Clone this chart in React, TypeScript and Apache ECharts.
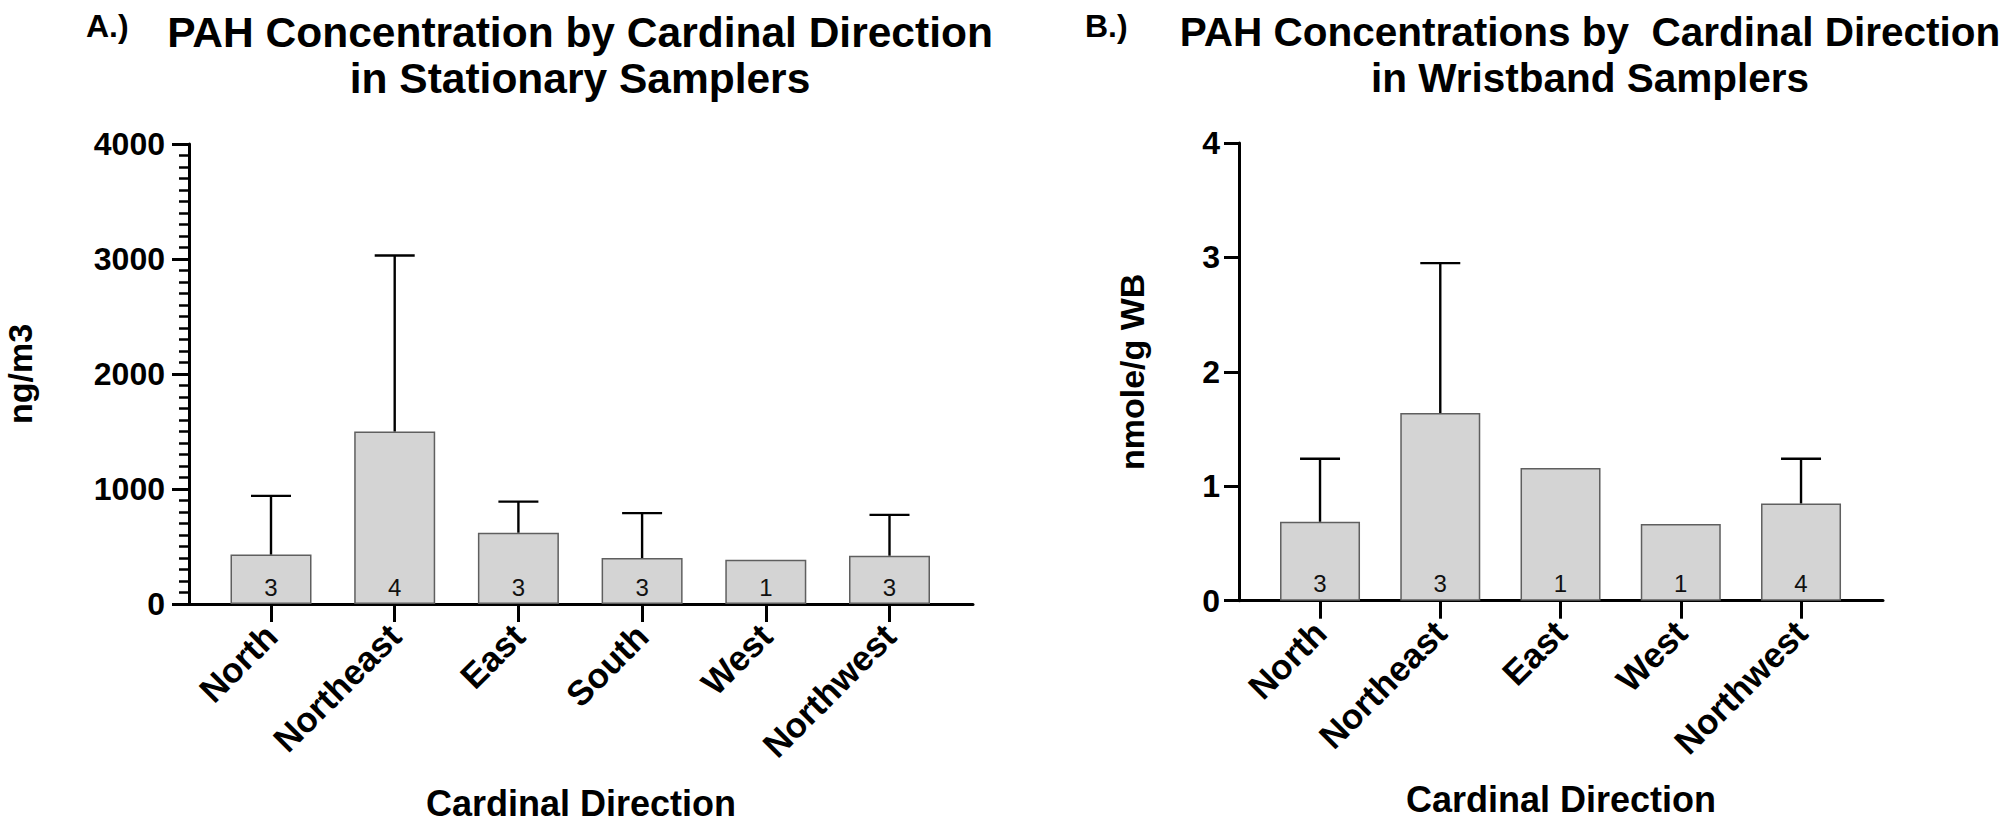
import * as echarts from 'echarts';
import { useEffect, useRef } from 'react';

// panel A: stationary samplers
const stationaryCats = ['North', 'Northeast', 'East', 'South', 'West', 'Northwest'];
const stationaryMean = [430, 1500, 620, 400, 385, 420];
const stationarySd = [510, 1530, 270, 390, null, 355];
const stationaryN = [3, 4, 3, 3, 1, 3];
const stationaryTicks = [0, 1000, 2000, 3000, 4000];

// panel B: wristband samplers
const wristCats = ['North', 'Northeast', 'East', 'West', 'Northwest'];
const wristMean = [0.69, 1.64, 1.16, 0.67, 0.85];
const wristSd = [0.55, 1.31, null, null, 0.39];
const wristN = [3, 3, 1, 1, 4];
const wristTicks = [0, 1, 2, 3, 4];

const FONT = 'Liberation Sans, Arial, Helvetica, sans-serif';

const errorBars = (mean: number[], sd: (number | null)[], xIdx: number, yIdx: number) => ({
    type: 'custom',
    xAxisIndex: xIdx,
    yAxisIndex: yIdx,
    z: 5,
    data: mean.map((m, i) => (sd[i] == null ? null : [i, m, sd[i]])).filter((d) => d !== null),
    renderItem: (_params: any, api: any) => {
        const i = api.value(0);
        const m = api.value(1);
        const e = api.value(2);
        const base = api.coord([i, m]);
        const top = api.coord([i, m + e]);
        const half = 20;
        const style = { stroke: '#000', lineWidth: 2.4 };
        return {
            type: 'group',
            children: [
                { type: 'line', shape: { x1: base[0], y1: base[1], x2: top[0], y2: top[1] }, style },
                { type: 'line', shape: { x1: top[0] - half, y1: top[1], x2: top[0] + half, y2: top[1] }, style },
            ],
        };
    },
});

const bars = (mean: number[], n: number[], xIdx: number, yIdx: number, width: number) => ({
    type: 'bar',
    xAxisIndex: xIdx,
    yAxisIndex: yIdx,
    barWidth: width,
    data: mean,
    itemStyle: { color: '#d4d4d4', borderColor: '#5f5f5f', borderWidth: 1.5 },
    label: {
        show: true,
        position: 'insideBottom',
        distance: 5,
        formatter: (p: any) => String(n[p.dataIndex]),
        fontFamily: FONT,
        fontSize: 24,
        color: '#111',
    },
});

export default function App() {
    const chartRef = useRef<HTMLDivElement>(null);

    useEffect(() => {
        if (!chartRef.current) return;
        const chart = echarts.init(chartRef.current, null, { renderer: 'svg' });

        const frameX = (name: string, gap: number) => ({
            type: 'value',
            min: 0,
            max: 1,
            axisLine: { show: true, lineStyle: { color: '#000', width: 3 } },
            axisTick: { show: false },
            axisLabel: { show: false },
            splitLine: { show: false },
            name,
            nameLocation: 'middle',
            nameGap: gap,
            nameTextStyle: { fontFamily: FONT, fontSize: 36, fontWeight: 'bold', color: '#000' },
        });

        const catX = (cats: string[], gridIndex: number) => ({
            type: 'category',
            gridIndex,
            data: cats,
            axisLine: { show: false },
            axisTick: { show: true, alignWithLabel: true, length: 18, lineStyle: { color: '#000', width: 3 } },
            axisLabel: {
                interval: 0,
                rotate: 45,
                margin: 26,
                fontFamily: FONT,
                fontSize: 35,
                fontWeight: 'bold',
                color: '#000',
            },
            splitLine: { show: false },
        });

        const option: any = {
            animation: false,
            backgroundColor: '#fff',
            title: [
                {
                    text: 'A.)',
                    left: 86,
                    top: 10,
                    padding: 0,
                    textStyle: { fontFamily: FONT, fontSize: 32, fontWeight: 'bold', color: '#000' },
                },
                {
                    text: 'PAH Concentration by Cardinal Direction\nin Stationary Samplers',
                    left: 580,
                    top: 9,
                    padding: 0,
                    textAlign: 'center',
                    textStyle: { fontFamily: FONT, fontSize: 42.5, fontWeight: 'bold', color: '#000', lineHeight: 46 },
                },
                {
                    text: 'B.)',
                    left: 1085,
                    top: 10,
                    padding: 0,
                    textStyle: { fontFamily: FONT, fontSize: 32, fontWeight: 'bold', color: '#000' },
                },
                {
                    text: 'PAH Concentrations by  Cardinal Direction\nin Wristband Samplers',
                    left: 1590,
                    top: 9,
                    padding: 0,
                    textAlign: 'center',
                    textStyle: { fontFamily: FONT, fontSize: 40.5, fontWeight: 'bold', color: '#000', lineHeight: 46 },
                },
            ],
            grid: [
                { left: 189, top: 144, width: 784, height: 460 },
                { left: 209.15, top: 144, width: 742.2, height: 460 },
                { left: 1239, top: 143, width: 644, height: 457.7 },
                { left: 1259.9, top: 143, width: 601.25, height: 457.7 },
            ],
            xAxis: [
                { ...frameX('Cardinal Direction', 181), gridIndex: 0 },
                catX(stationaryCats, 1),
                { ...frameX('Cardinal Direction', 181), gridIndex: 2 },
                catX(wristCats, 3),
            ],
            yAxis: [
                {
                    type: 'value',
                    gridIndex: 0,
                    min: stationaryTicks[0],
                    max: stationaryTicks[stationaryTicks.length - 1],
                    interval: stationaryTicks[1] - stationaryTicks[0],
                    axisLine: { show: true, lineStyle: { color: '#000', width: 3 } },
                    axisTick: { show: true, length: 17, lineStyle: { color: '#000', width: 3 } },
                    minorTick: { show: true, splitNumber: 10, length: 10, lineStyle: { color: '#000', width: 2.5 } },
                    axisLabel: {
                        margin: 24,
                        formatter: (v: number) => String(v),
                        fontFamily: FONT,
                        fontSize: 32,
                        fontWeight: 'bold',
                        color: '#000',
                    },
                    splitLine: { show: false },
                    name: 'ng/m3',
                    nameLocation: 'middle',
                    nameGap: 152,
                    nameTextStyle: { fontFamily: FONT, fontSize: 34, fontWeight: 'bold', color: '#000' },
                },
                {
                    type: 'value',
                    gridIndex: 1,
                    min: stationaryTicks[0],
                    max: stationaryTicks[stationaryTicks.length - 1],
                    show: false,
                },
                {
                    type: 'value',
                    gridIndex: 2,
                    min: wristTicks[0],
                    max: wristTicks[wristTicks.length - 1],
                    interval: wristTicks[1] - wristTicks[0],
                    axisLine: { show: true, lineStyle: { color: '#000', width: 3 } },
                    axisTick: { show: true, length: 15, lineStyle: { color: '#000', width: 3 } },
                    axisLabel: {
                        margin: 19,
                        formatter: (v: number) => String(v),
                        fontFamily: FONT,
                        fontSize: 32,
                        fontWeight: 'bold',
                        color: '#000',
                    },
                    splitLine: { show: false },
                    name: 'nmole/g WB',
                    nameLocation: 'middle',
                    nameGap: 90,
                    nameTextStyle: { fontFamily: FONT, fontSize: 34, fontWeight: 'bold', color: '#000' },
                },
                {
                    type: 'value',
                    gridIndex: 3,
                    min: wristTicks[0],
                    max: wristTicks[wristTicks.length - 1],
                    show: false,
                },
            ],
            series: [
                bars(stationaryMean, stationaryN, 1, 1, 81),
                errorBars(stationaryMean, stationarySd, 1, 1),
                bars(wristMean, wristN, 3, 3, 80),
                errorBars(wristMean, wristSd, 3, 3),
            ],
        };

        chart.setOption(option);
        const handleResize = () => chart.resize();
        window.addEventListener('resize', handleResize);
        return () => {
            window.removeEventListener('resize', handleResize);
            chart.dispose();
        };
    }, []);

    return <div ref={chartRef} style={{ position: 'fixed', left: 0, top: 0, width: '2000px', height: '826px' }} />;
}
